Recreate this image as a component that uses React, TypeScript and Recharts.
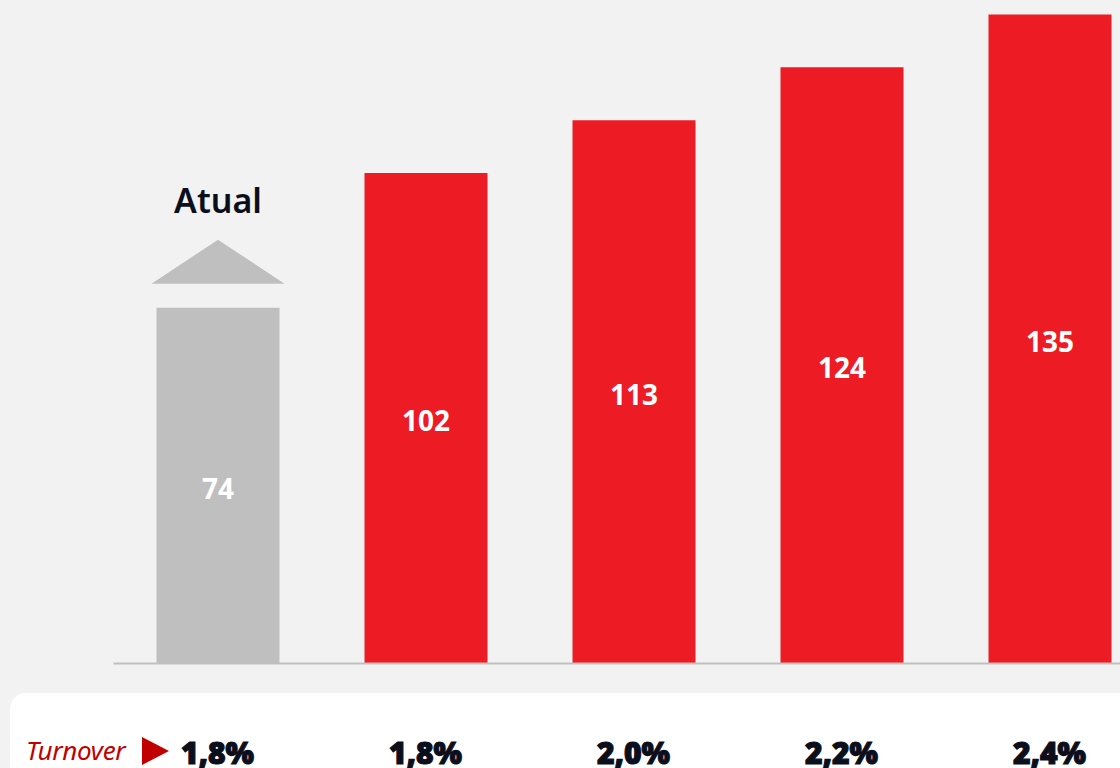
import React from 'react';
import { BarChart, Bar, XAxis, YAxis, Cell, LabelList } from 'recharts';

const scenarios = ['Atual', 'Cenário 1', 'Cenário 2', 'Cenário 3', 'Cenário 4'];
const values = [74, 102, 113, 124, 135];
const turnover = ['1,8%', '1,8%', '2,0%', '2,2%', '2,4%'];

const RED = '#ed1c24';
const GRAY = '#bfbfbf';
const DARK = '#0b0f1c';

const data = scenarios.map((name, i) => ({ name, value: values[i], turnover: turnover[i] }));

const TurnoverTick = ({ x, y, index }: any) => (
  <text
    x={x}
    y={y + 100}
    textAnchor="middle"
    fill={DARK}
    stroke={DARK}
    strokeWidth={1.2}
    fontFamily="'Noto Sans', sans-serif"
    fontWeight={900}
    fontSize={30}
  >
    {turnover[index]}
  </text>
);

const BarLabel = ({ x, y, width, height, value, index }: any) => {
  const cx = x + width / 2;
  return (
    <g>
      <text
        x={cx}
        y={y + height / 2 + 13}
        textAnchor="middle"
        fill="#ffffff"
        fontFamily="'Noto Sans', sans-serif"
        fontWeight={700}
        fontSize={28}
      >
        {value}
      </text>
      {index === 0 && (
        <g>
          <polygon
            points={`${cx},${y - 68} ${x - 5},${y - 24} ${x + width + 5},${y - 24}`}
            fill={GRAY}
          />
          <text
            x={cx}
            y={y - 95}
            textAnchor="middle"
            fill={DARK}
            fontFamily="'Noto Sans', sans-serif"
            fontWeight={600}
            fontSize={34}
          >
            {scenarios[0]}
          </text>
        </g>
      )}
    </g>
  );
};

export default function App() {
  return (
    <div
      style={{
        position: 'relative',
        width: 1120,
        height: 768,
        overflow: 'hidden',
        background: '#f2f2f2',
        fontFamily: "'Noto Sans', sans-serif",
      }}
    >
      <style>{'body{margin:0}'}</style>
      {/* white panel behind the turnover row */}
      <div
        style={{
          position: 'absolute',
          left: 10,
          top: 693,
          width: 1200,
          height: 140,
          background: '#ffffff',
          borderRadius: 16,
        }}
      />
      <div
        style={{
          position: 'absolute',
          left: 26,
          top: 732,
          color: '#c00000',
          fontStyle: 'italic',
          fontSize: 26,
          lineHeight: '36px',
          letterSpacing: -0.3,
        }}
      >
        Turnover
      </div>
      <svg style={{ position: 'absolute', left: 142, top: 737 }} width={28} height={29}>
        <polygon points="0,0 27,14 0,28" fill="#c00000" />
      </svg>
      <div style={{ position: 'absolute', left: 0, top: 0 }}>
        <BarChart
          width={1160}
          height={768}
          data={data}
          margin={{ top: 0, right: 6.5, left: 113.5, bottom: 74.5 }}
        >
          <YAxis hide domain={[0, 138]} />
          <XAxis
            dataKey="name"
            height={30}
            tickLine={false}
            tickSize={0}
            tickMargin={0}
            axisLine={{ stroke: GRAY, strokeWidth: 2 }}
            tick={<TurnoverTick />}
            interval={0}
          />
          <Bar dataKey="value" barSize={123} isAnimationActive={false}>
            {data.map((d, i) => (
              <Cell key={d.name} fill={i === 0 ? GRAY : RED} />
            ))}
            <LabelList dataKey="value" content={<BarLabel />} />
          </Bar>
        </BarChart>
      </div>
    </div>
  );
}
